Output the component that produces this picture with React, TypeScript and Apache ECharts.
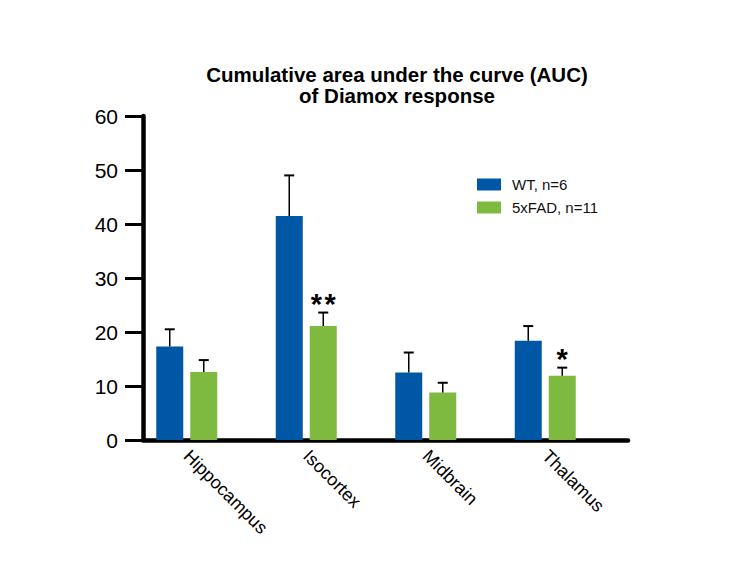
import React, { useEffect, useRef } from "react";
import * as echarts from "echarts";

const CATEGORIES = ["Hippocampus", "Isocortex", "Midbrain", "Thalamus"];
const WT_NAME = "WT, n=6";
const FAD_NAME = "5xFAD, n=11";
const WT_MEAN = [17.3, 41.5, 12.5, 18.4];
const WT_SEM = [3.2, 7.5, 3.7, 2.7];
const FAD_MEAN = [12.6, 21.1, 8.8, 11.9];
const FAD_SEM = [2.2, 2.5, 1.8, 1.5];
const WT_SIG = ["", "", "", ""];
const FAD_SIG = ["", "**", "", "*"];
const Y_MIN = 0;
const Y_MAX = 60;
const Y_INTERVAL = 10;
const TITLE_1 = "Cumulative area under the curve (AUC)";
const TITLE_2 = "of Diamox response";

const FONT = '"Liberation Sans", Arial, Helvetica, sans-serif';
const BLUE = "#0057A6";
const GREEN = "#7DBA3F";
const BAR_W = 27;
const BAR_GAP = 7;
const OFFSET = (BAR_W + BAR_GAP) / 2;

function errSeries(name: string, means: number[], sems: number[], sigs: string[], offset: number) {
  return {
    type: "custom",
    name: name + "-err",
    xAxisIndex: 0,
    yAxisIndex: 0,
    z: 5,
    data: means.map((m, i) => [i, m, sems[i]]),
    encode: { x: 0, y: 1 },
    renderItem: (params: any, api: any) => {
      const i = params.dataIndex;
      const cat = api.value(0);
      const mean = api.value(1);
      const sem = api.value(2);
      const p0 = api.coord([cat, mean]);
      const p1 = api.coord([cat, mean + sem]);
      const x = p0[0] + offset;
      const children: any[] = [
        { type: "line", shape: { x1: x, y1: p0[1], x2: x, y2: p1[1] }, style: { stroke: "#000", lineWidth: 1.5 } },
        { type: "line", shape: { x1: x - 5, y1: p1[1], x2: x + 5, y2: p1[1] }, style: { stroke: "#000", lineWidth: 2 } },
      ];
      if (sigs[i]) {
        children.push({
          type: "text",
          x: x,
          y: p1[1] - 9,
          style: {
            text: sigs[i].split("").join("\u200a"),
            fill: "#000",
            fontSize: 29,
            fontWeight: "bold",
            fontFamily: FONT,
            align: "center",
            verticalAlign: "middle",
          },
        });
      }
      return { type: "group", children };
    },
  };
}

export default function App() {
  const ref = useRef<HTMLDivElement>(null);
  useEffect(() => {
    if (!ref.current) return;
    const chart = echarts.init(ref.current, undefined, { renderer: "svg" });
    chart.setOption({
      animation: false,
      backgroundColor: "#fff",
      title: {
        text: TITLE_1,
        subtext: TITLE_2,
        left: 397,
        top: 64.5,
        padding: 0,
        itemGap: 0,
        textAlign: "center",
        textStyle: { fontFamily: FONT, fontSize: 20.5, fontWeight: "bold", color: "#000", lineHeight: 20 },
        subtextStyle: { fontFamily: FONT, fontSize: 20.5, fontWeight: "bold", color: "#000", lineHeight: 20 },
      },
      legend: {
        data: [WT_NAME, FAD_NAME],
        orient: "vertical",
        left: 477,
        top: 177,
        padding: 0,
        itemWidth: 24,
        itemHeight: 12,
        itemGap: 8,
        icon: "rect",
        textStyle: { fontFamily: FONT, fontSize: 15, color: "#111", padding: [0, 0, 0, 6] },
      },
      grid: [
        { left: 127, top: 116, width: 478, height: 324 },
        { left: 143, top: 116, width: 485, height: 324 },
      ],
      xAxis: [
        {
          type: "category",
          gridIndex: 0,
          data: CATEGORIES,
          axisLine: { show: false },
          axisTick: { show: false },
          axisLabel: { rotate: -45, margin: 13, fontSize: 18, fontFamily: FONT, color: "#000" },
        },
        {
          type: "value",
          gridIndex: 1,
          min: 0,
          max: 1,
          axisLine: { show: true, onZero: false, lineStyle: { color: "#000", width: 4.5 } },
          axisTick: { show: false },
          axisLabel: { show: false },
          splitLine: { show: false },
        },
      ],
      yAxis: [
        {
          type: "value",
          gridIndex: 0,
          min: Y_MIN,
          max: Y_MAX,
          interval: Y_INTERVAL,
          show: false,
          splitLine: { show: false },
        },
        {
          type: "value",
          gridIndex: 1,
          min: Y_MIN,
          max: Y_MAX,
          interval: Y_INTERVAL,
          axisLine: { show: true, lineStyle: { color: "#000", width: 4.5 } },
          axisTick: { show: true, length: 18, lineStyle: { color: "#000", width: 3 } },
          axisLabel: { margin: 25, fontSize: 21, fontFamily: FONT, color: "#000" },
          splitLine: { show: false },
        },
      ],
      series: [
        {
          type: "bar",
          name: WT_NAME,
          xAxisIndex: 0,
          yAxisIndex: 0,
          barWidth: BAR_W,
          barGap: (BAR_GAP / BAR_W) * 100 + "%",
          itemStyle: { color: BLUE },
          data: WT_MEAN,
        },
        {
          type: "bar",
          name: FAD_NAME,
          xAxisIndex: 0,
          yAxisIndex: 0,
          barWidth: BAR_W,
          barGap: (BAR_GAP / BAR_W) * 100 + "%",
          itemStyle: { color: GREEN },
          data: FAD_MEAN,
        },
        errSeries(WT_NAME, WT_MEAN, WT_SEM, WT_SIG, -OFFSET),
        errSeries(FAD_NAME, FAD_MEAN, FAD_SEM, FAD_SIG, OFFSET),
      ],
    });
    return () => chart.dispose();
  }, []);
  return <div ref={ref} style={{ position: "absolute", left: 0, top: 0, width: 746, height: 573 }} />;
}
